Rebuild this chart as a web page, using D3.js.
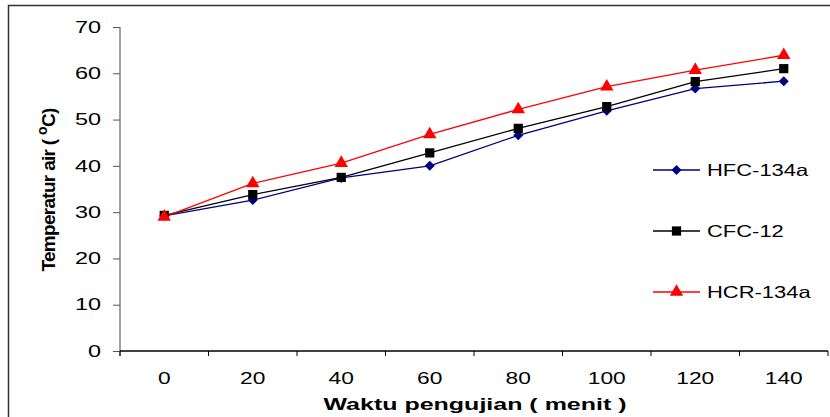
<!DOCTYPE html>
<html><head><meta charset="utf-8">
<script src="https://cdn.jsdelivr.net/npm/d3@7"></script>
<style>body{margin:0;background:#fff}svg{display:block;font-family:"Liberation Sans",Arial,sans-serif}</style>
</head><body><svg id="c" width="830" height="417"></svg>
<script>
const categories = [0, 20, 40, 60, 80, 100, 120, 140];
const hfc134a = [29.2, 32.6, 37.4, 40.0, 46.6, 51.9, 56.7, 58.3];
const cfc12   = [29.3, 33.8, 37.5, 42.8, 48.1, 52.8, 58.2, 61.0];
const hcr134a = [29.0, 36.2, 40.6, 46.8, 52.2, 57.1, 60.7, 63.9];
const yTicks = [0, 10, 20, 30, 40, 50, 60, 70];
const seriesNames = ["HFC-134a", "CFC-12", "HCR-134a"];
const seriesColors = ["#000080", "#000000", "#ff0000"];
const diamond = { draw(ctx, size) { const r = Math.sqrt(size / 2); ctx.moveTo(0, -r); ctx.lineTo(r, 0); ctx.lineTo(0, r); ctx.lineTo(-r, 0); ctx.closePath(); } };
const seriesShapes = [diamond, d3.symbolSquare, d3.symbolTriangle];
const seriesSizes = [50, 85, 78];
const series = [hfc134a, cfc12, hcr134a];

const svg = d3.select("#c");
const L = 120, R = 828, T = 27, B = 351;
const x = d3.scaleBand().domain(categories).range([L, R]);
const y = d3.scaleLinear().domain([0, 70]).range([B, T]);

function stretch(sel, k) {
  sel.each(function () {
    const w = this.getComputedTextLength();
    d3.select(this).attr("textLength", w * k).attr("lengthAdjust", "spacingAndGlyphs");
  });
}

// outer border (top and left)
svg.append("path").attr("d", "M8.5,417 V5.5 H830").attr("fill", "none").attr("stroke", "#333").attr("stroke-width", 1.5);

// y axis
const ya = svg.append("g").attr("transform", `translate(${L},0)`).call(d3.axisLeft(y).tickValues(yTicks).tickSize(7).tickPadding(12));
ya.select(".domain").attr("stroke", "#808080").attr("stroke-width", 1.5).attr("d", `M0,${T}V${B+5}`);
ya.selectAll(".tick line").attr("stroke", "#555");
ya.selectAll("text").attr("font-size", 16.5).attr("fill", "#000").attr("font-family", "Liberation Sans, Arial, sans-serif").call(stretch, 1.42);

// x axis
const xa = svg.append("g").attr("transform", `translate(0,${B})`).call(d3.axisBottom(x).tickSize(0).tickPadding(21));
xa.select(".domain").attr("stroke", "#000").attr("stroke-width", 1.3).attr("d", `M${L},0H${R}`);
xa.selectAll("text").attr("font-size", 16.5).attr("fill", "#000").attr("font-family", "Liberation Sans, Arial, sans-serif").call(stretch, 1.38);
const bounds = categories.map(c => x(c)).concat([R]);
xa.selectAll(".bt").data(bounds).enter().append("line").attr("class", "bt")
  .attr("x1", d => d).attr("x2", d => d).attr("y1", 0).attr("y2", 5).attr("stroke", "#000");

// lines and markers
const line = d3.line().x((d, i) => x(categories[i]) + x.bandwidth() / 2).y(d => y(d));
series.forEach((s, k) => {
  svg.append("path").attr("d", line(s)).attr("fill", "none").attr("stroke", seriesColors[k]).attr("stroke-width", 1.3);
});
series.forEach((s, k) => {
  svg.append("g").selectAll("path").data(s).enter().append("path")
    .attr("d", d3.symbol().type(seriesShapes[k]).size(seriesSizes[k]))
    .attr("transform", (d, i) => `translate(${x(categories[i]) + x.bandwidth() / 2},${y(d)})`)
    .attr("fill", seriesColors[k]);
});

// legend
const legY = [170, 231, 292];
seriesNames.forEach((n, k) => {
  const g = svg.append("g").attr("transform", `translate(653,${legY[k]})`);
  g.append("line").attr("x1", 0).attr("x2", 47).attr("stroke", seriesColors[k]).attr("stroke-width", 1.3);
  g.append("path").attr("d", d3.symbol().type(seriesShapes[k]).size(seriesSizes[k])).attr("transform", "translate(23.5,0)").attr("fill", seriesColors[k]);
  g.append("text").attr("x", 54).attr("y", 6).attr("font-size", 16.5).text(n).call(stretch, 1.33);
});

// axis titles
const yl = svg.append("text").attr("transform", "translate(55,190) rotate(-90)").attr("text-anchor", "middle")
  .attr("font-size", 19).attr("font-weight", "bold").attr("letter-spacing", -0.7);
yl.append("tspan").text("Temperatur air ( ");
yl.append("tspan").attr("dy", -8).attr("font-size", 14).text("o");
yl.append("tspan").attr("dy", 8).text("C)");

svg.append("text").attr("x", 475).attr("y", 410).attr("text-anchor", "middle")
  .attr("font-size", 17).attr("font-weight", "bold").text("Waktu pengujian ( menit )").call(stretch, 1.47);
</script></body></html>
